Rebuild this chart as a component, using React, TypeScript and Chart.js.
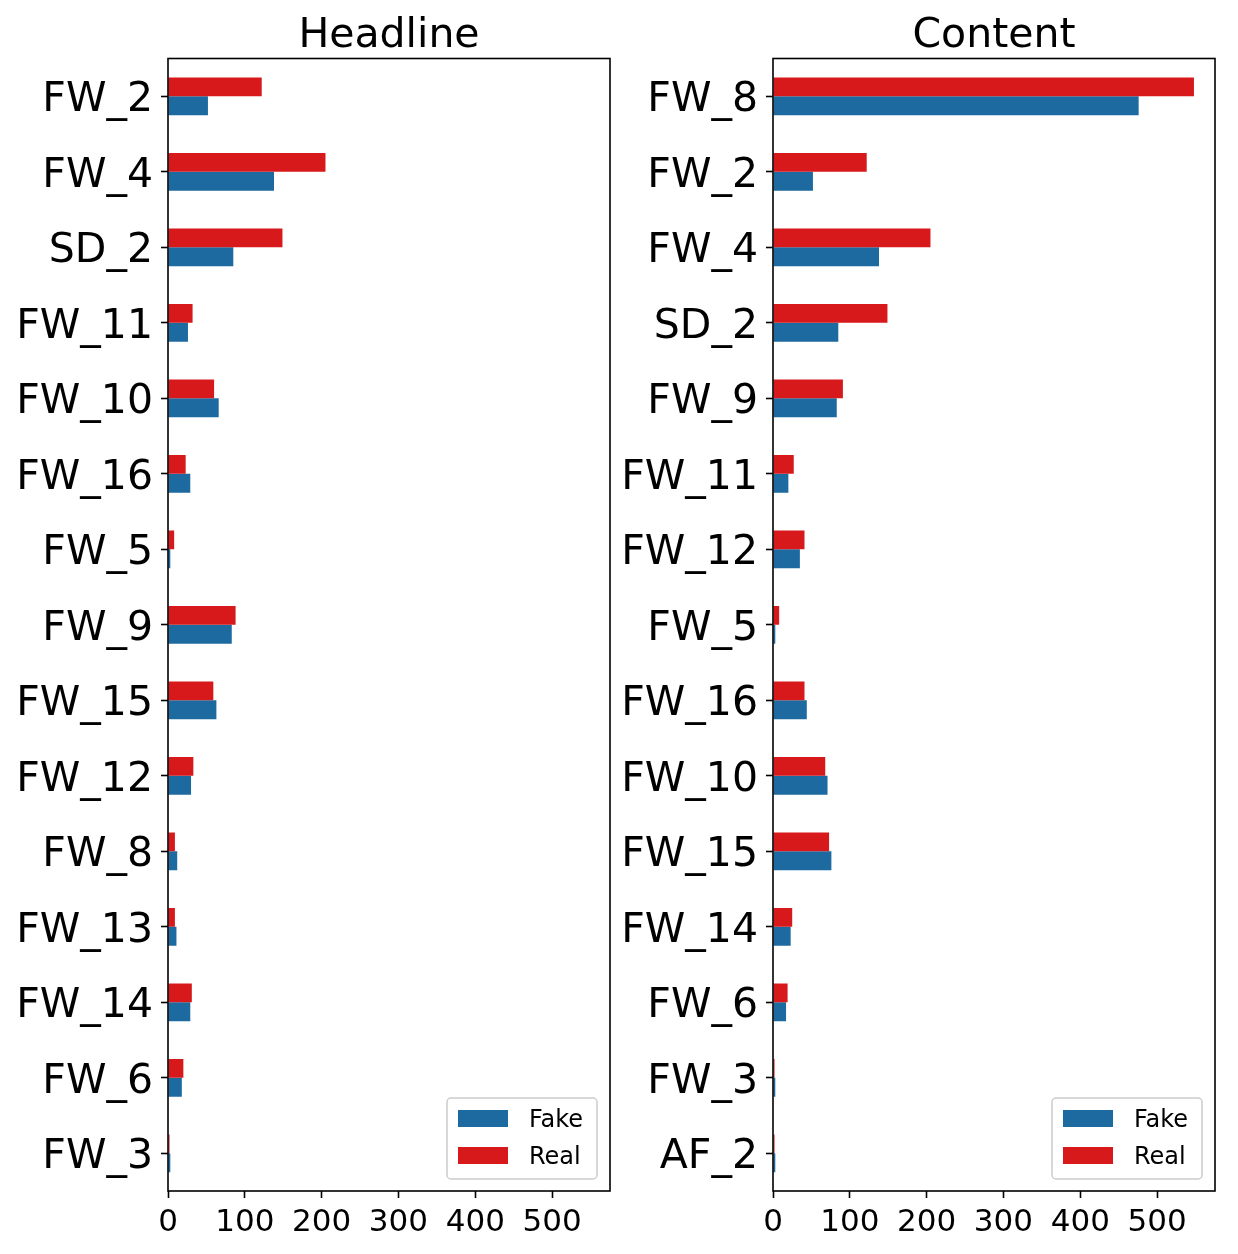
import React, { useEffect, useRef } from "react";
import { Chart, registerables } from "chart.js";

Chart.register(...registerables);

// ---- Data (top-to-bottom order as shown) ----
const headlineLabels = ["FW_2", "FW_4", "SD_2", "FW_11", "FW_10", "FW_16", "FW_5", "FW_9", "FW_15", "FW_12", "FW_8", "FW_13", "FW_14", "FW_6", "FW_3"];
const headlineFake = [52, 138, 85, 26, 66, 29, 3, 83, 63, 30, 12, 11, 29, 18, 3];
const headlineReal = [122, 205, 149, 32, 60, 23, 8, 88, 59, 33, 9, 9, 31, 20, 2];

const contentLabels = ["FW_8", "FW_2", "FW_4", "SD_2", "FW_9", "FW_11", "FW_12", "FW_5", "FW_16", "FW_10", "FW_15", "FW_14", "FW_6", "FW_3", "AF_2"];
const contentFake = [476, 52, 138, 85, 83, 20, 35, 3, 44, 71, 76, 23, 17, 3, 3];
const contentReal = [548, 122, 205, 149, 91, 27, 41, 8, 41, 68, 73, 25, 19, 2, 2];

const xTickValues = [0, 100, 200, 300, 400, 500];
const xMax = 575.4;
const legendOrder = ["Fake", "Real"];

const FAKE_COLOR = "#1d6aa1";
const REAL_COLOR = "#d7191c";
const FONT = "'DejaVu Sans', sans-serif";

const framePlugin = {
  id: "frame",
  afterDatasetsDraw(chart: any) {
    const { ctx, chartArea: a } = chart;
    ctx.save();
    ctx.strokeStyle = "#000";
    ctx.lineWidth = 1.6;
    ctx.strokeRect(a.left, a.top, a.right - a.left, a.bottom - a.top);
    ctx.restore();
  },
};

const titlePlugin = {
  id: "panelTitle",
  afterDraw(chart: any, _args: any, opts: any) {
    const { ctx, chartArea: a } = chart;
    ctx.save();
    ctx.fillStyle = "#000";
    ctx.font = `41px ${FONT}`;
    ctx.textAlign = "center";
    ctx.textBaseline = "alphabetic";
    ctx.fillText(opts.text, (a.left + a.right) / 2, 46.5);
    ctx.restore();
  },
};

const legendPlugin = {
  id: "panelLegend",
  afterDraw(chart: any) {
    const { ctx, chartArea: a } = chart;
    const w = 150;
    const h = 81;
    const x = a.right - 13 - w;
    const y = a.bottom - 12 - h;
    ctx.save();
    ctx.beginPath();
    if ((ctx as any).roundRect) (ctx as any).roundRect(x, y, w, h, 4);
    else ctx.rect(x, y, w, h);
    ctx.fillStyle = "rgba(255,255,255,0.8)";
    ctx.fill();
    ctx.strokeStyle = "#cccccc";
    ctx.lineWidth = 1.5;
    ctx.stroke();
    legendOrder.forEach((name, i) => {
      const ds = chart.data.datasets.find((d: any) => d.label === name);
      const py = y + 12 + i * 37;
      ctx.fillStyle = ds.backgroundColor;
      ctx.fillRect(x + 11, py, 50, 17);
      ctx.fillStyle = "#000";
      ctx.font = `24px ${FONT}`;
      ctx.textAlign = "left";
      ctx.textBaseline = "alphabetic";
      ctx.fillText(name, x + 82, py + 17);
    });
    ctx.restore();
  },
};

function makePanelChart(
  canvas: HTMLCanvasElement,
  title: string,
  labels: string[],
  fake: number[],
  real: number[],
  axisWidth: number,
  padRight: number
) {
  return new Chart(canvas, {
    type: "bar",
    data: {
      labels,
      datasets: [
        { label: "Real", data: real, backgroundColor: REAL_COLOR, borderWidth: 0, categoryPercentage: 0.5, barPercentage: 1.0 },
        { label: "Fake", data: fake, backgroundColor: FAKE_COLOR, borderWidth: 0, categoryPercentage: 0.5, barPercentage: 1.0 },
      ],
    },
    options: {
      indexAxis: "y",
      responsive: false,
      animation: false,
      layout: { padding: { top: 58.5, right: padRight, left: 0, bottom: 0 } },
      plugins: {
        legend: { display: false },
        tooltip: { enabled: false },
        title: { display: false },
        panelTitle: { text: title },
      } as any,
      scales: {
        x: {
          type: "linear",
          position: "bottom",
          min: 0,
          max: xMax,
          afterFit: (s: any) => {
            s.height = 63;
          },
          afterBuildTicks: (s: any) => {
            s.ticks = xTickValues.map((v) => ({ value: v }));
          },
          ticks: { font: { family: FONT, size: 31 }, color: "#000", padding: 6, maxRotation: 0, autoSkip: false },
          grid: { drawOnChartArea: false, drawTicks: true, tickLength: 7, tickWidth: 1.6, tickColor: "#000" },
          border: { display: false },
        },
        y: {
          type: "category",
          afterFit: (s: any) => {
            s.width = axisWidth;
          },
          ticks: { font: { family: FONT, size: 41 }, color: "#000", padding: 8, autoSkip: false, labelOffset: 4.5 },
          grid: { offset: false, drawOnChartArea: false, drawTicks: true, tickLength: 7, tickWidth: 1.6, tickColor: "#000" },
          border: { display: false },
        },
      },
    } as any,
    plugins: [framePlugin, titlePlugin, legendPlugin],
  });
}

export default function App() {
  const leftRef = useRef<HTMLCanvasElement>(null);
  const rightRef = useRef<HTMLCanvasElement>(null);

  useEffect(() => {
    const c1 = makePanelChart(leftRef.current!, "Headline", headlineLabels, headlineFake, headlineReal, 168, 9);
    const c2 = makePanelChart(rightRef.current!, "Content", contentLabels, contentFake, contentReal, 154, 23);
    return () => {
      c1.destroy();
      c2.destroy();
    };
  }, []);

  return (
    <div style={{ position: "absolute", left: 0, top: 0, width: 1238, height: 1254, background: "#fff" }}>
      <canvas ref={leftRef} width={619} height={1254} style={{ position: "absolute", left: 0, top: 0, width: 619, height: 1254 }} />
      <canvas ref={rightRef} width={619} height={1254} style={{ position: "absolute", left: 619, top: 0, width: 619, height: 1254 }} />
    </div>
  );
}
